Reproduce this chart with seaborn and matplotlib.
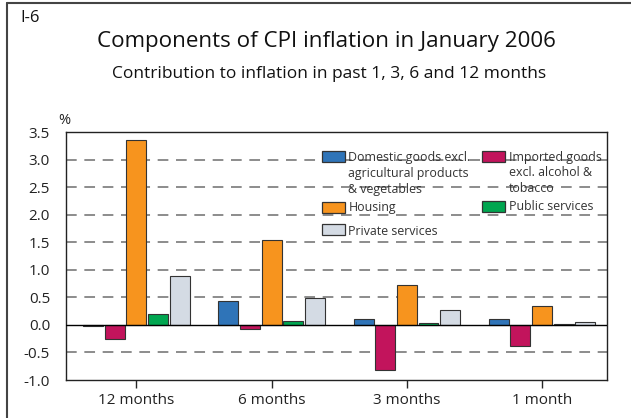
import numpy as np
import pandas as pd
import matplotlib
matplotlib.use("Agg")
import matplotlib.pyplot as plt
import seaborn as sns
from matplotlib.lines import Line2D
from matplotlib.patches import Rectangle

periods = ["12 months", "6 months", "3 months", "1 month"]
components = [
    "Domestic goods excl.\nagricultural products\n& vegetables",
    "Imported goods\nexcl. alcohol &\ntobacco",
    "Housing",
    "Public services",
    "Private services",
]
domestic = [-0.02, 0.44, 0.11, 0.10]
imported = [-0.26, -0.08, -0.82, -0.38]
housing = [3.36, 1.54, 0.72, 0.35]
public = [0.20, 0.07, 0.04, 0.01]
private = [0.88, 0.48, 0.27, 0.05]
colors = ["#2f74b8", "#c2145c", "#f7941e", "#00a650", "#d4dbe4"]
yticks = [-1.0, -0.5, 0.0, 0.5, 1.0, 1.5, 2.0, 2.5, 3.0, 3.5]

rows = []
for comp, vals in zip(components, [domestic, imported, housing, public, private]):
    for p, v in zip(periods, vals):
        rows.append({"period": p, "component": comp, "value": v})
df = pd.DataFrame(rows)

sns.set_style("white")
plt.rcParams["font.family"] = ["Open Sans", "DejaVu Sans"]

W, H = 631, 418
fig = plt.figure(figsize=(W / 100, H / 100), dpi=100)
ax = fig.add_axes([66 / W, 1 - 380 / H, (607 - 66) / W, (380 - 132) / H])

# gridlines dessous les barres
for y in yticks[1:-1]:
    if y == 0:
        continue
    ax.axhline(y, color="#6e6e6e", lw=1.1, dashes=(7, 5), zorder=0)

sns.barplot(data=df, x="period", y="value", hue="component", order=periods,
            hue_order=components, palette=colors, saturation=1, width=0.8, gap=0.08,
            edgecolor="#333333", linewidth=0.8, ax=ax, legend=False, zorder=2)
ax.axhline(0, color="black", lw=1.0, zorder=3)

ax.set_ylim(-1.0, 3.5)
ax.set_xlim(-0.52, 3.48)
ax.set_yticks(yticks)
ax.set_yticklabels([f"{t:.1f}" for t in yticks], fontsize=11, color="#222222")
ax.set_xlabel("")
ax.set_ylabel("")
ax.tick_params(axis="x", bottom=True, length=6, width=1, direction="out",
               labelsize=11, labelcolor="#222222", pad=3)
ax.tick_params(axis="y", left=False, pad=8)
for s in ax.spines.values():
    s.set_color("#222222")
    s.set_linewidth(1.0)
ax.text(-0.015, 1.015, "%", transform=ax.transAxes, fontsize=10.5, color="#222222",
        ha="left", va="bottom")

# légende faite à la main (carré aligné sur la première ligne)
# (x carré, y haut carré, x texte, y centre 1re ligne) en pixels
leg_pos = [
    (322, 151, 348, 157),
    (482, 151, 509, 157),
    (322, 202, 349, 207),
    (482, 201, 509, 207),
    (322, 224, 348, 231),
]
for i, (px, py, tx, ty) in enumerate(leg_pos):
    fig.add_artist(Rectangle((px / W, 1 - (py + 11) / H), 23 / W, 11 / H,
                             facecolor=colors[i], edgecolor="#333333", lw=0.9,
                             transform=fig.transFigure))
    for k, line in enumerate(components[i].split("\n")):
        fig.text(tx / W, 1 - (ty + 16 * k) / H, line, fontsize=8.9, color="#333333",
                 ha="left", va="center")

fig.text(97 / W, 1 - 42 / H, "Components of CPI inflation in January 2006",
         fontsize=16.1, color="#111111", ha="left", va="center")
fig.text(112 / W, 1 - 74 / H, "Contribution to inflation in past 1, 3, 6 and 12 months",
         fontsize=12.5, color="#111111", ha="left", va="center")
fig.text(20 / W, 1 - 18 / H, "I-6", fontsize=12, color="#111111", ha="left", va="center")

# cadre de la figure
fig.add_artist(Line2D([7 / W, 1.0], [1 - 3 / H, 1 - 3 / H], color="#444444", lw=1.5,
                      transform=fig.transFigure))
fig.add_artist(Line2D([7 / W, 7 / W], [0, 1 - 3 / H], color="#444444", lw=1.5,
                      transform=fig.transFigure))

fig.savefig("out.png", dpi=100)
